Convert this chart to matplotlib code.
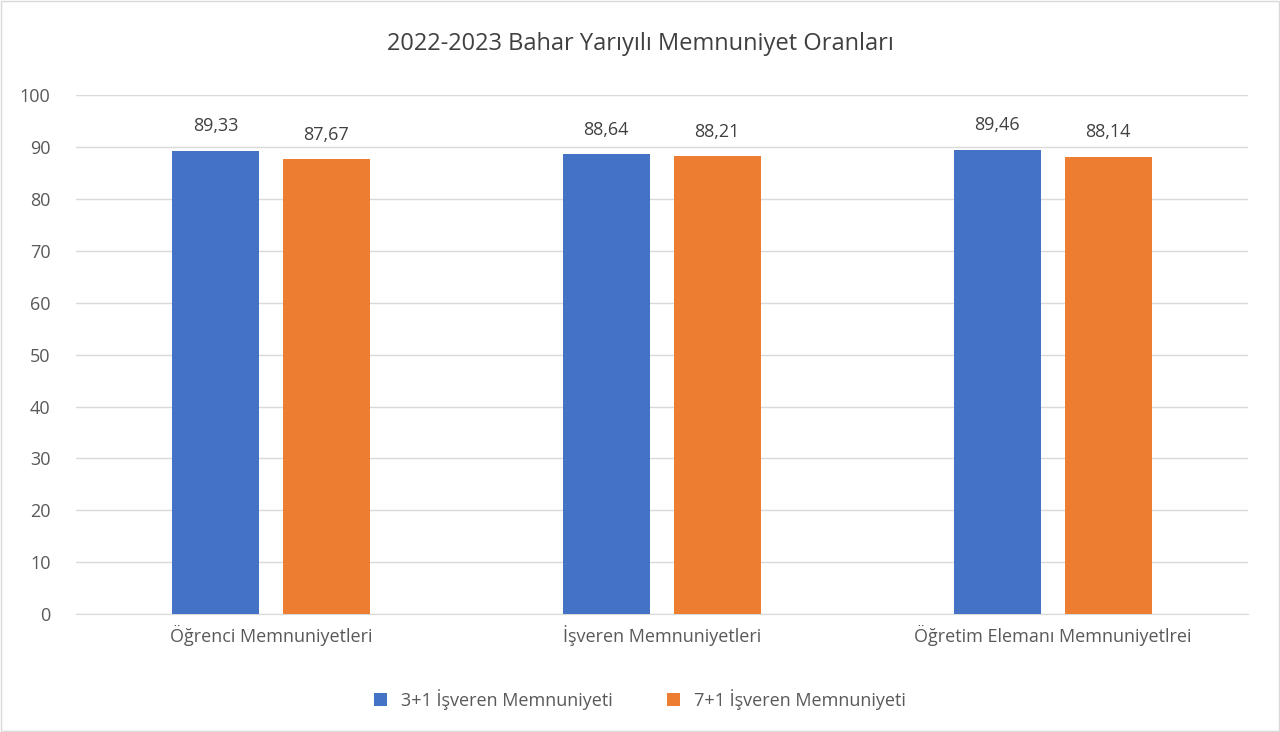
import numpy as np
import matplotlib.pyplot as plt
from matplotlib.patches import Rectangle

plt.rcParams['font.family'] = ['Open Sans', 'DejaVu Sans']

categories = ["Öğrenci Memnuniyetleri", "İşveren Memnuniyetleri", "Öğretim Elemanı Memnuniyetlrei"]
series_names = ["3+1 İşveren Memnuniyeti", "7+1 İşveren Memnuniyeti"]
values_3p1 = [89.33, 88.64, 89.46]
values_7p1 = [87.67, 88.21, 88.14]
colors = ["#4472C4", "#ED7D31"]

fig = plt.figure(figsize=(12.8, 7.32), dpi=100)
ax = fig.add_axes([0.059, 0.161, 0.916, 0.709])
fig.patches.append(Rectangle((0.001, 0.001), 0.998, 0.998, transform=fig.transFigure,
                             fill=False, edgecolor="#d9d9d9", linewidth=1))

x = np.arange(len(categories))
w = 0.223
off = 0.142
for vals, c, o, name in [(values_3p1, colors[0], -off, series_names[0]),
                         (values_7p1, colors[1], off, series_names[1])]:
    bars = ax.bar(x + o, vals, w, color=c, label=name, zorder=3)
    for b, v in zip(bars, vals):
        ax.text(b.get_x() + b.get_width() / 2, v + 3, f"{v:.2f}".replace(".", ","),
                ha="center", va="bottom", fontsize=13, color="#404040")

ax.set_xlim(-0.5, 2.5)
ax.set_ylim(0, 100)
ax.set_yticks(range(0, 101, 10))
ax.set_xticks(x)
ax.set_xticklabels(categories)
ax.tick_params(axis="both", length=0, labelsize=13, labelcolor="#595959")
ax.tick_params(axis="y", pad=18)
ax.tick_params(axis="x", pad=8)
ax.grid(axis="y", color="#d9d9d9", linewidth=1, zorder=0)
for s in ["top", "right", "left"]:
    ax.spines[s].set_visible(False)
ax.spines["bottom"].set_color("#d9d9d9")

fig.text(0.5, 0.94, "2022-2023 Bahar Yarıyılı Memnuniyet Oranları", ha="center",
         va="center", fontsize=17, color="#404040")
fig.legend(loc="center", bbox_to_anchor=(0.5, 0.045), ncol=2, frameon=False,
           fontsize=13, handlelength=0.7, handleheight=0.7, columnspacing=3,
           labelcolor="#595959")

fig.savefig("out.png", dpi=100)
